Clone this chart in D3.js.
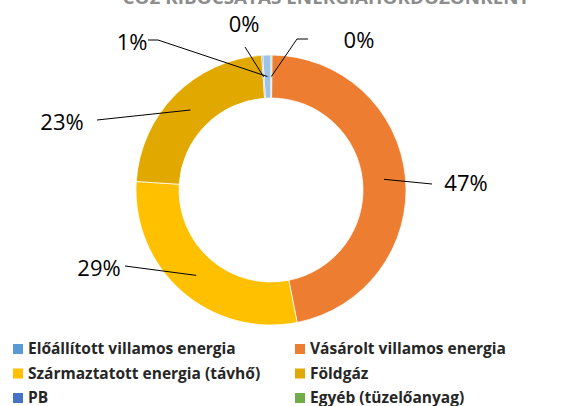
<!DOCTYPE html>
<html>
<head>
<meta charset="utf-8">
<script src="https://cdn.jsdelivr.net/npm/d3@7"></script>
<style>
  html, body { margin: 0; padding: 0; background: #fff; }
  svg { display: block; font-family: "Open Sans", sans-serif; }
</style>
</head>
<body>
<div id="root"></div>
<script>
const width = 562;
const height = 406;

// data, in legend order
const categories = [
    "Előállított villamos energia",
    "Vásárolt villamos energia",
    "Származtatott energia (távhő)",
    "Földgáz",
    "PB",
    "Egyéb (tüzelőanyag)"
];
const shares = [0.98, 46.8, 29.1, 22.9, 0.12, 0.1];
const sliceColors = ["#9DC3E6", "#ED7D31", "#FFC000", "#E1A900", "#4472C4", "#70AD47"];
const swatchColors = ["#5B9BD5", "#ED7D31", "#FFC000", "#E1A900", "#4472C4", "#70AD47"];
// clockwise order of the slices around the ring
const pieOrder = [4, 0, 5, 1, 2, 3];
const title = "CO2 KIBOCSÁTÁS ENERGIAHORDOZÓNKÉNT";

// label placement, offsets from the ring centre: text point, optional knee, leader end
const labelLayout = [
    { text: [-139, -148], knee: [-113, -150], end: [-123, -150] },
    { text: [195, -7], end: [161, -6] },
    { text: [-172, 78], end: [-146, 76] },
    { text: [-209, -68], end: [-174, -70] },
    { text: [-27, -166], end: [-26, -143] },
    { text: [88, -150], knee: [26, -151], end: [37, -151] }
];

const cx = 271, cy = 190;
const outerRadius = 135;
const innerRadius = 92;

const svg = d3.select("#root")
    .append("svg")
    .attr("width", width)
    .attr("height", height);

// chart frame, mostly outside the view
svg.append("rect")
    .attr("x", -6).attr("y", -60)
    .attr("width", width + 12).attr("height", height + 66)
    .attr("rx", 12)
    .attr("fill", "none")
    .attr("stroke", "#bfbfbf")
    .attr("stroke-width", 1);

// title sits above the visible area, as in the source
svg.append("text")
    .attr("x", 326)
    .attr("y", 4)
    .attr("text-anchor", "middle")
    .attr("font-size", 18)
    .attr("font-weight", "bold")
    .attr("fill", "#8c8c8c")
    .attr("textLength", 407)
    .attr("lengthAdjust", "spacingAndGlyphs")
    .text(title);

const data = categories.map((c, i) => ({ name: c, value: shares[i], i: i }));
const total = d3.sum(shares);
// the ring starts so that the third slice in pieOrder begins at 12 o'clock
const lead = (shares[pieOrder[0]] + shares[pieOrder[1]]) / total * 2 * Math.PI;

const pie = d3.pie()
    .value(d => d.value)
    .sort((a, b) => pieOrder.indexOf(a.i) - pieOrder.indexOf(b.i))
    .startAngle(-lead)
    .endAngle(2 * Math.PI - lead);

const arc = d3.arc().innerRadius(innerRadius).outerRadius(outerRadius);

const g = svg.append("g").attr("transform", `translate(${cx},${cy})`);

const arcs = pie(data);

g.selectAll("path.slice")
    .data(arcs)
    .enter().append("path")
    .attr("class", "slice")
    .attr("d", arc)
    .attr("fill", d => sliceColors[d.data.i])
    .attr("stroke", "#fff")
    .attr("stroke-width", 0.75);

const leaders = g.selectAll("g.label")
    .data(arcs)
    .enter().append("g")
    .attr("class", "label");

leaders.append("polyline")
    .attr("fill", "none")
    .attr("stroke", "#000")
    .attr("stroke-width", 1)
    .attr("points", d => {
        const l = labelLayout[d.data.i];
        const pts = [arc.centroid(d)];
        if (l.knee) pts.push(l.knee);
        pts.push(l.end);
        return pts.map(p => p.join(",")).join(" ");
    });

leaders.append("text")
    .attr("x", d => labelLayout[d.data.i].text[0])
    .attr("y", d => labelLayout[d.data.i].text[1])
    .attr("dy", "0.35em")
    .attr("text-anchor", "middle")
    .attr("font-size", 22)
    .attr("fill", "#000")
    .text(d => Math.round(d.data.value / total * 100) + "%");

// legend, two columns
const legendX = d3.scalePoint().domain([0, 1]).range([13, 295]);
const legendY = d3.scalePoint().domain([0, 1, 2]).range([349, 398]);

const legend = svg.selectAll("g.legend")
    .data(data)
    .enter().append("g")
    .attr("class", "legend")
    .attr("transform", d => `translate(${legendX(d.i % 2)},${legendY(Math.floor(d.i / 2))})`);

legend.append("rect")
    .attr("x", 0).attr("y", -5)
    .attr("width", 10).attr("height", 10)
    .attr("fill", d => swatchColors[d.i]);

legend.append("text")
    .attr("x", 15)
    .attr("dy", "0.35em")
    .attr("font-size", 15.5)
    .attr("font-weight", "bold")
    .attr("fill", "#262626")
    .text(d => d.name);
</script>
</body>
</html>
